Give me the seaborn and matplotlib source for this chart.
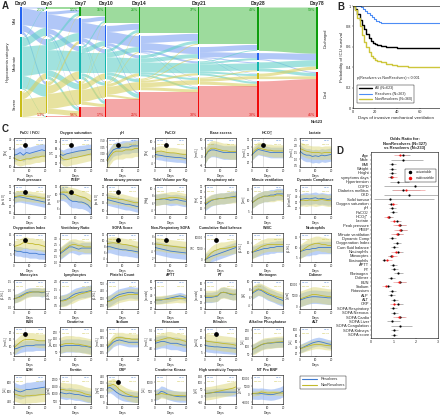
import numpy as np
import pandas as pd
import seaborn as sns
import matplotlib.pyplot as plt
from matplotlib.lines import Line2D

W, H = 440, 416

# ---------------- panel A: alluvial of hypoxaemia category ----------------
stage_labels = ['Day0', 'Day3', 'Day7', 'Day10', 'Day14', 'Day21', 'Day28', 'Day78']
stage_x = [0, 3, 7, 10, 14, 21, 28, 35]
states = ['Discharged', 'Mild', 'Moderate', 'Severe', 'Died']
# fraction of all patients moving [from state][to state] between stages
flow_0_3 = [[0, 0, 0, 0, 0],
            [0.01, 0.16, 0.06, 0.03, 0],
            [0.01, 0.08, 0.28, 0.12, 0.01],
            [0, 0.01, 0.06, 0.17, 0.003],
            [0, 0, 0, 0, 0]]
flow_3_7 = [[0.021, 0, 0, 0, 0],
            [0.03, 0.14, 0.05, 0.02, 0.01],
            [0.03, 0.08, 0.20, 0.06, 0.03],
            [0.01, 0.03, 0.08, 0.15, 0.05],
            [0, 0, 0, 0, 0.013]]
flow_7_10 = [[0.091, 0, 0, 0, 0],
             [0.04, 0.15, 0.04, 0.01, 0.01],
             [0.02, 0.05, 0.20, 0.03, 0.03],
             [0.01, 0.01, 0.06, 0.12, 0.03],
             [0, 0, 0, 0, 0.103]]
flow_10_14 = [[0.161, 0, 0, 0, 0],
              [0.06, 0.11, 0.03, 0.005, 0.015],
              [0.03, 0.05, 0.15, 0.03, 0.04],
              [0.01, 0.01, 0.03, 0.08, 0.02],
              [0, 0, 0, 0, 0.173]]
flow_14_21 = [[0.261, 0, 0, 0, 0],
              [0.07, 0.07, 0.02, 0.005, 0.005],
              [0.03, 0.04, 0.10, 0.02, 0.02],
              [0.01, 0.01, 0.02, 0.045, 0.03],
              [0, 0, 0, 0, 0.248]]
flow_21_28 = [[0.371, 0, 0, 0, 0],
              [0.05, 0.05, 0.01, 0.005, 0.005],
              [0.01, 0.02, 0.07, 0.02, 0.02],
              [0, 0, 0.01, 0.03, 0.03],
              [0, 0, 0, 0, 0.303]]
flow_28_78 = [[0.431, 0, 0, 0, 0],
              [0.06, 0, 0, 0, 0.01],
              [0.06, 0, 0, 0, 0.03],
              [0.03, 0, 0, 0, 0.025],
              [0, 0, 0, 0, 0.358]]
flows = [flow_0_3, flow_3_7, flow_7_10, flow_10_14, flow_14_21, flow_21_28, flow_28_78]
pct_discharged = ['', '2.1%', '9.5%', '16%', '26%', '37%', '43%', '59%']
pct_died = ['', '1.3%', '9.6%', '17%', '25%', '30%', '38%', '41%']

# ---------------- panel B: Kaplan-Meier ----------------
km_days = [0, 2, 4, 6, 8, 10, 12, 14, 16, 18, 20, 22, 25, 30, 35, 40, 50, 60, 78]
surv_all = [1, 0.97, 0.92, 0.86, 0.81, 0.77, 0.73, 0.69, 0.66, 0.64, 0.63, 0.62,
            0.61, 0.60, 0.595, 0.59, 0.588, 0.585, 0.585]
surv_nonres = [1, 0.96, 0.88, 0.80, 0.72, 0.65, 0.60, 0.55, 0.51, 0.49, 0.47, 0.46,
               0.45, 0.43, 0.42, 0.41, 0.405, 0.40, 0.40]
res_days = [0, 5, 7, 9, 11, 13, 15, 17, 19, 21, 23, 25, 78]
surv_res = [1, 1, 0.99, 0.97, 0.95, 0.93, 0.91, 0.89, 0.87, 0.855, 0.845, 0.835, 0.835]

# ---------------- panel C: trajectories ----------------
c_days = [0, 2, 4, 6, 8, 10, 12, 14, 16, 18, 20]
c_titles = ['PaO$_2$ / FiO$_2$', 'Oxygen saturation', 'pH', 'PaCO$_2$', 'Base excess', 'HCO$_3^-$', 'Lactate',
            'Peak pressure', 'PEEP', 'Mean airway pressure', 'Tidal Volume per Kg', 'Respiratory rate',
            'Minute ventilation', 'Dynamic Compliance',
            'Oxygenation Index', 'Ventilatory Ratio', 'SOFA Score', 'Non-Respiratory SOFA',
            'Cumulative fluid balance', 'WBC', 'Neutrophils',
            'Monocytes', 'Lymphocytes', 'Platelet Count', 'APTT', 'PT', 'Fibrinogen', 'D-dimer',
            'BUN', 'Creatinine', 'Sodium', 'Potassium', 'Bilirubin', 'Alkaline Phosphatase', 'ALT',
            'LDH', 'Ferritin', 'CRP', 'Creatinine Kinase', 'High sensitivity Troponin', 'NT Pro BNP']
c_units = ['[kPa]', '[%]', '', '[kPa]', '[mmol/L]', '[mmol/L]', '[mmol/L]',
           '[cmH$_2$O]', '[cmH$_2$O]', '[cmH$_2$O]', '[ml/kg]', '[/min]', '[L/min]', '[ml/cmH$_2$O]',
           '', '', '', '', '[ml]', '[x10$^9$/L]', '[x10$^9$/L]',
           '[x10$^9$/L]', '[x10$^9$/L]', '[x10$^9$/L]', '[seconds]', '[seconds]', '[g/L]', '[ng/mL]',
           '[mmol/L]', '[μmol/L]', '[mmol/L]', '[mmol/L]', '[μmol/L]', '[U/L]', '[U/L]',
           '[U/L]', '[ng/mL]', '[mg/L]', '[U/L]', '[ng/L]', '[pg/ml]']
c_ylims = [(10, 42), (91, 99), (7.3, 7.52), (3, 11), (-6, 11), (17, 36), (0.4, 2.6),
           (14, 36), (4.5, 12.5), (8, 26), (3, 11), (10, 36), (4, 17), (10, 60),
           (1, 16), (1, 3.5), (3, 12.5), (1, 9), (-1000, 12000), (5, 20), (3, 17),
           (-0.1, 1.6), (0.3, 2.1), (150, 550), (20, 62), (12, 16.5), (3, 10.5), (-1000, 12000),
           (3, 24), (20, 240), (133, 152), (3.6, 5.2), (3, 22), (40, 220), (10, 110),
           (350, 950), (300, 2300), (-20, 420), (-200, 1400), (-60, 160), (-6000, 12000)]
c_yticks = [[10, 20, 30, 40], [92, 94, 96, 98], [7.35, 7.4, 7.45, 7.5], [4, 6, 8, 10], [-5, 0, 5, 10],
            [20, 25, 30, 35], [0.5, 1, 1.5, 2, 2.5],
            [15, 20, 25, 30, 35], [6, 8, 10, 12], [10, 15, 20, 25], [4, 6, 8, 10], [15, 20, 25, 30, 35],
            [5, 10, 15], [20, 30, 40, 50],
            [5, 10, 15], [1, 1.5, 2, 2.5, 3], [4, 6, 8, 10, 12], [2, 4, 6, 8], [0, 5000, 10000],
            [10, 15], [5, 10, 15],
            [0, 0.5, 1, 1.5], [0.5, 1, 1.5, 2], [200, 300, 400, 500], [20, 30, 40, 50, 60],
            [12, 13, 14, 15, 16], [4, 6, 8, 10], [0, 5000, 10000],
            [5, 10, 15, 20], [50, 100, 150, 200], [135, 140, 145, 150], [4, 4.5, 5], [5, 10, 15, 20],
            [50, 100, 150, 200], [20, 40, 60, 80, 100],
            [400, 600, 800], [500, 1000, 1500, 2000], [0, 100, 200, 300, 400], [0, 500, 1000],
            [-50, 0, 50, 100, 150], [-5000, 0, 5000, 10000]]
res_mean = [
    [23, 24, 26, 23, 26, 25, 26, 27, 28, 29, 28],
    [94.5, 94.2, 94.6, 94.8, 95, 95.2, 95.4, 95.5, 95.6, 95.8, 95.8],
    [7.36, 7.40, 7.43, 7.44, 7.44, 7.45, 7.45, 7.45, 7.46, 7.46, 7.46],
    [6.5, 6.3, 6.2, 6.0, 5.9, 5.8, 5.7, 5.6, 5.6, 5.5, 5.3],
    [0, 3, 4, 4, 3.5, 3, 2.5, 2.5, 2.5, 2.5, 2.5],
    [25, 27, 28.5, 28, 27.5, 27, 26.5, 26.5, 26.5, 26.5, 26.5],
    [1.6, 1.4, 1.3, 1.3, 1.2, 1.25, 1.2, 1.3, 1.25, 1.3, 1.35],
    [26, 27, 27, 26.5, 26, 25.5, 25, 24.5, 24, 23.5, 23],
    [10, 10, 9.5, 8.5, 8, 8, 7.8, 7.8, 7.5, 7, 6],
    [17, 16.5, 16, 15.5, 15, 14.5, 14, 14, 13.5, 13, 12.5],
    [7, 7, 7.1, 7.2, 7, 6.8, 6.9, 7, 6.8, 6.6, 6.5],
    [18, 20, 22, 23, 23.5, 24, 24, 24.5, 25, 25.5, 26],
    [9, 10, 11, 11.5, 12, 12, 12.5, 12.5, 13, 13, 13],
    [35, 36, 37, 36, 37, 38, 36, 37, 36, 35, 36],
    [7, 6.5, 6.5, 6, 6, 5.5, 5.5, 5.5, 5, 5, 4.8],
    [1.7, 1.9, 2.1, 2.3, 2.3, 2.2, 2.1, 2.2, 2.2, 2.2, 2.2],
    [8, 8, 7.7, 7.4, 7.2, 7, 7, 6.8, 6.7, 6.5, 6.3],
    [5, 4.8, 4.6, 4.4, 4.2, 4, 3.9, 3.8, 3.7, 3.6, 3.5],
    [0, 800, 1500, 2000, 2500, 3000, 3500, 4000, 4500, 5000, 5500],
    [10, 10.5, 11, 11.5, 12, 12, 12.5, 12.5, 13, 13, 13],
    [8, 8.5, 9, 9, 9.5, 9.5, 10, 10, 10, 10, 10],
    [0.5, 0.55, 0.65, 0.75, 0.85, 0.9, 0.9, 0.9, 0.9, 0.85, 0.9],
    [0.8, 0.85, 0.9, 1.0, 1.15, 1.25, 1.3, 1.35, 1.35, 1.4, 1.45],
    [250, 270, 300, 330, 350, 360, 370, 380, 380, 370, 370],
    [33, 33, 33, 34, 35, 36, 37, 38, 39, 38, 36],
    [13.8, 13.8, 13.8, 13.9, 14, 14.5, 14.6, 14.5, 14.3, 14.2, 14.3],
    [7, 7.5, 8, 7.8, 7.3, 6.8, 6.5, 6.2, 5.8, 5.5, 5.2],
    [3000, 3500, 4000, 4300, 4500, 4500, 4400, 4300, 4200, 4000, 4000],
    [8, 8.5, 9.5, 10, 10.5, 10.5, 10.5, 11, 11, 11, 11],
    [90, 95, 100, 100, 100, 100, 100, 95, 95, 90, 85],
    [138, 140, 142, 143, 143.5, 143, 142.5, 142, 142, 142, 142],
    [4.3, 4.35, 4.4, 4.4, 4.35, 4.3, 4.3, 4.3, 4.25, 4.2, 4.2],
    [10, 9.5, 9.3, 9, 9, 8.8, 8.6, 8.5, 8.3, 8.2, 8],
    [80, 90, 100, 110, 115, 120, 120, 122, 124, 125, 125],
    [35, 40, 45, 50, 55, 58, 60, 58, 55, 52, 50],
    [650, 620, 600, 620, 650, 650, 660, 670, 680, 690, 700],
    [1100, 1050, 1000, 1050, 1000, 950, 950, 900, 850, 800, 800],
    [220, 230, 200, 160, 130, 110, 100, 95, 90, 85, 80],
    [300, 350, 500, 450, 350, 300, 250, 220, 200, 200, 200],
    [20, 22, 25, 28, 30, 30, 30, 30, 30, 30, 30],
    [500, 400, 300, 500, 200, 0, -200, 0, 500, 1000, 2000]]
nonres_mean = [
    [20, 18, 17, 18, 19, 19, 20, 21, 21, 22, 22],
    [94, 93.2, 93, 93.2, 93.5, 93.6, 93.8, 94, 94.2, 94.4, 94.6],
    [7.34, 7.38, 7.41, 7.42, 7.42, 7.42, 7.43, 7.43, 7.43, 7.44, 7.44],
    [7.0, 7.3, 7.4, 7.2, 7.0, 6.9, 6.9, 6.8, 6.6, 6.5, 6.5],
    [0.5, 3.5, 5, 5, 4.5, 4, 3.5, 3.5, 3, 3, 3],
    [25.5, 28, 29.5, 29, 28.5, 28, 28, 27.5, 27.5, 27.5, 27.5],
    [1.8, 1.7, 1.6, 1.55, 1.5, 1.5, 1.5, 1.45, 1.5, 1.5, 1.5],
    [27, 27.5, 28, 28, 27.5, 27.5, 27, 27, 26.5, 26, 26],
    [10.5, 10.5, 10.5, 10.2, 10, 9.8, 9.5, 9.2, 9, 8.5, 8],
    [18, 18, 17.5, 17.5, 17, 17, 16.5, 16, 15.5, 15, 15],
    [6.9, 7, 7.2, 7.3, 7.4, 7.6, 7.6, 7.5, 7.4, 7.2, 7.0],
    [19, 21, 22.5, 23, 23.5, 24, 24, 24.5, 24.5, 25, 25],
    [9, 10, 11, 11.5, 12, 12, 12, 12, 12.5, 12.5, 12],
    [33, 34, 33, 34, 34, 33, 34, 35, 34, 33, 33],
    [9, 9.5, 10, 11, 11, 10.5, 10.5, 10, 10, 9.5, 9],
    [1.8, 2.0, 2.2, 2.4, 2.5, 2.5, 2.4, 2.4, 2.3, 2.3, 2.3],
    [9, 9.2, 9.3, 9.2, 9, 8.8, 8.7, 8.5, 8.3, 8, 7.8],
    [6, 5.9, 5.8, 5.6, 5.5, 5.4, 5.3, 5.2, 5.1, 5, 4.9],
    [0, 1500, 3000, 4000, 4500, 5000, 5000, 5200, 5500, 5800, 6000],
    [10, 11, 12, 13, 13.5, 14, 14, 14, 14, 14, 14],
    [8, 9, 10, 11, 11.5, 12, 12, 11.5, 11.5, 11, 11],
    [0.5, 0.55, 0.6, 0.7, 0.8, 0.85, 0.9, 0.9, 0.9, 0.9, 0.9],
    [0.8, 0.8, 0.85, 0.95, 1.0, 1.1, 1.2, 1.25, 1.3, 1.35, 1.4],
    [250, 260, 280, 300, 320, 330, 340, 350, 350, 350, 350],
    [33, 33, 33.5, 34, 34, 34.5, 35, 35.5, 35, 35, 35],
    [14, 14, 14, 14, 14.1, 14.5, 14.6, 14.5, 14.4, 14.3, 14.3],
    [7.2, 7.8, 8.2, 8, 7.6, 7.2, 6.8, 6.5, 6.2, 6, 5.8],
    [3500, 4000, 4500, 5000, 5500, 5500, 5300, 5000, 4800, 4600, 4500],
    [9, 11, 13, 14.5, 15, 15, 15, 14.5, 14, 14, 14],
    [100, 110, 115, 115, 115, 110, 110, 105, 100, 95, 90],
    [139, 141, 143.5, 145, 145, 145, 144.5, 144.5, 144, 144, 144],
    [4.4, 4.45, 4.5, 4.55, 4.6, 4.6, 4.55, 4.5, 4.5, 4.45, 4.4],
    [13, 12.5, 12.3, 12, 11.8, 11.5, 11.2, 11, 10.8, 10.5, 10],
    [80, 88, 100, 110, 118, 120, 122, 125, 127, 128, 130],
    [35, 38, 42, 45, 48, 50, 50, 49, 47, 46, 45],
    [560, 540, 520, 510, 520, 520, 530, 530, 540, 545, 550],
    [1300, 1300, 1250, 1250, 1200, 1200, 1150, 1100, 1000, 950, 900],
    [250, 260, 280, 250, 200, 170, 140, 120, 105, 95, 90],
    [300, 320, 380, 350, 320, 300, 280, 270, 260, 255, 250],
    [20, 22, 25, 30, 35, 40, 45, 50, 55, 60, 70],
    [500, 600, 800, 1500, 1200, 800, 900, 1000, 900, 800, 800]]
res_sd = [7, 1.5, 0.05, 1.3, 4, 3.5, 0.5, 4, 1.8, 3.5, 1.5, 5, 2.5, 10, 2.5, 0.5, 2, 1.8, 2500, 3, 3,
          0.25, 0.35, 80, 5, 0.8, 1.5, 3000, 4, 50, 3, 0.35, 4, 30, 15, 150, 400, 80, 300, 30, 3500]
nonres_sd = [6, 1.8, 0.06, 1.5, 4.5, 4, 0.5, 4, 1.8, 3.5, 1.6, 5, 2.5, 10, 3, 0.5, 2, 1.8, 3000, 3.5, 3.5,
             0.25, 0.35, 80, 6, 0.9, 1.6, 3500, 5, 60, 3.5, 0.35, 5, 35, 15, 150, 500, 90, 250, 50, 1500]
c_star = [0, 1, 2, 3, 5, 7, 8, 9, 14, 16, 17, 18, 28, 32, 37]

# ---------------- panel D: odds ratios ----------------
or_names = ['Age', 'Male', 'BMI', 'Weight', 'Height', 'symptoms days', 'Hypertension', 'COPD',
            'Diabetes mellitus', 'CKD', 'Solid tumour', 'Oxygen saturation', 'pH', 'PaCO$_2$', 'HCO$_3^-$',
            'Lactate', 'Peak pressure', 'PEEP', 'Minute ventilation', 'Dynamic Comp', 'Oxygenation Index',
            'Cum fluid balance', 'Neutrophils', 'Monocytes', 'Eosinophils', 'APTT', 'PT', 'Fibrinogen',
            'D-dimer', 'BUN', 'Sodium', 'Potassium', 'ALP', 'ALT', 'CRP', 'SOFA Respiratory',
            'SOFA Nervous', 'SOFA Cardio', 'SOFA Liver', 'SOFA Coagulation', 'SOFA Kidneys', 'SOFA score']
or_uni = [1.45, 1.45, 0.95, 0.95, 0.95, 0.9, 1.2, 1.95, 1.45, 1.7, 0.85, 0.9, 0.95, 1.0, 0.82, 1.15, 1.3,
          1.35, 1.2, 0.95, 1.15, 1.05, 1.2, 0.9, 0.6, 1.0, 1.05, 1.2, 0.9, 1.3, 0.75, 0.95, 0.9, 1.05,
          1.2, 1.0, 1.05, 1.3, 0.95, 1.3, 1.05, 1.02]
or_uni_lo = [1.2, 0.9, 0.8, 0.8, 0.82, 0.75, 0.85, 0.6, 0.95, 0.6, 0.15, 0.75, 0.8, 0.85, 0.68, 0.97,
             1.08, 1.12, 1.0, 0.8, 0.97, 0.9, 1.02, 0.76, 0.48, 0.85, 0.9, 1.02, 0.76, 1.1, 0.62, 0.8,
             0.76, 0.9, 1.02, 0.85, 0.9, 1.1, 0.7, 0.9, 0.9, 0.9]
or_uni_hi = [1.75, 2.35, 1.1, 1.12, 1.1, 1.05, 1.7, 4.0, 2.2, 4.5, 2.8, 1.05, 1.1, 1.17, 0.97, 1.35,
             1.55, 1.6, 1.42, 1.12, 1.35, 1.22, 1.42, 1.06, 0.76, 1.18, 1.22, 1.42, 1.06, 1.55, 0.9,
             1.12, 1.06, 1.22, 1.42, 1.18, 1.22, 1.52, 1.3, 1.85, 1.22, 1.15]
multi_names = ['Age', 'symptoms days', 'Diabetes mellitus', 'Oxygen saturation', 'HCO$_3^-$', 'Lactate',
               'Peak pressure', 'PEEP', 'Minute ventilation', 'Neutrophils', 'Monocytes', 'Eosinophils',
               'BUN', 'Sodium', 'CRP', 'SOFA Cardio']
or_multi = [1.3, 0.95, 1.55, 0.98, 0.75, 1.05, 1.25, 1.3, 1.15, 1.1, 0.95, 0.7, 1.25, 0.65, 1.05, 1.25]
or_multi_lo = [1.05, 0.78, 1.0, 0.8, 0.6, 0.85, 1.0, 1.05, 0.9, 0.9, 0.78, 0.52, 1.0, 0.5, 0.85, 1.0]
or_multi_hi = [1.6, 1.15, 2.4, 1.18, 0.92, 1.3, 1.55, 1.6, 1.45, 1.35, 1.15, 0.92, 1.55, 0.82, 1.3, 1.55]


def box(x0, y0, x1, y1):
    return [x0 / W, 1 - y1 / H, (x1 - x0) / W, (y1 - y0) / H]


sns.set_theme(style='white')
plt.rcParams['font.family'] = ['Liberation Sans', 'DejaVu Sans']
plt.rcParams.update({
    'axes.linewidth': 0.4, 'axes.edgecolor': 'black',
    'xtick.major.size': 1, 'ytick.major.size': 1,
    'xtick.major.width': 0.3, 'ytick.major.width': 0.3,
    'xtick.major.pad': 0.6, 'ytick.major.pad': 0.5,
    'xtick.labelsize': 2.1, 'ytick.labelsize': 2.0,
    'xtick.bottom': True, 'ytick.left': True,
})

fig = plt.figure(figsize=(W / 100, H / 100), dpi=100)

# ---------------- A ----------------
node_cols = ['#0d9e0d', '#2463f0', '#14b6b0', '#c9bd18', '#f00a0a']
flow_cols = ['#5cc45c', '#7ea2f2', '#62d0c8', '#d8d060', '#ee6c6c']

axa = fig.add_axes(box(18.5, 7, 319.5, 118))
axa.set_xlim(-0.3, 35.3)
axa.set_ylim(-0.01, 1.0)
axa.axis('off')


def layout(sizes, gap=0.02):
    n = sum(1 for s in sizes if s > 0)
    scale = (1 - gap * (n - 1)) / sum(sizes)
    tops, bots, y = [], [], 1.0
    for s in sizes:
        tops.append(y)
        bots.append(y - s * scale)
        if s > 0:
            y -= s * scale + gap
    return tops, bots, scale


stage_sizes = [np.array(flows[0]).sum(axis=1)] + [np.array(f).sum(axis=0) for f in flows]
bw = 0.2
for k, fl in enumerate(flows):
    s_tops, _, s_sc = layout(stage_sizes[k])
    t_tops, _, t_sc = layout(stage_sizes[k + 1])
    sc, tc = list(s_tops), list(t_tops)
    x0, x1 = stage_x[k] + bw / 2, stage_x[k + 1] - bw / 2
    xs = np.linspace(x0, x1, 50)
    sm = (1 - np.cos(np.pi * (xs - x0) / (x1 - x0))) / 2
    for i in range(5):
        for j in range(5):
            f = fl[i][j]
            if f <= 0:
                continue
            y0t, y0b = sc[i], sc[i] - f * s_sc
            y1t, y1b = tc[j], tc[j] - f * t_sc
            sc[i], tc[j] = y0b, y1b
            axa.fill_between(xs, y0b + (y1b - y0b) * sm, y0t + (y1t - y0t) * sm,
                             color=flow_cols[i], alpha=0.6, lw=0)

for k, sizes in enumerate(stage_sizes):
    tops, bots, _ = layout(sizes)
    for i in range(5):
        if sizes[i] > 0:
            axa.bar(stage_x[k], tops[i] - bots[i], bottom=bots[i], width=bw,
                    color=node_cols[i], lw=0, zorder=3)
    axa.text(stage_x[k], 1.005, stage_labels[k], ha='center', va='bottom',
             fontsize=3.6, fontweight='bold')
    if pct_discharged[k]:
        axa.text(stage_x[k] - 0.2, 0.99, pct_discharged[k], ha='right', va='top',
                 fontsize=2.6, color='#139a13')
        axa.text(stage_x[k] - 0.2, 0.0, pct_died[k], ha='right', va='bottom',
                 fontsize=2.6, color='#e01010')
    if k == 0:
        for i, name in [(1, 'Mild'), (2, 'Moderate'), (3, 'Severe')]:
            axa.text(-0.75, (tops[i] + bots[i]) / 2, name, rotation=90, ha='center',
                     va='center', fontsize=2.8)
    if k == len(stage_sizes) - 1:
        for i, name in [(0, 'Discharged'), (4, 'Died')]:
            axa.text(36.0, (tops[i] + bots[i]) / 2, name, rotation=90, ha='center',
                     va='center', fontsize=2.8)
axa.text(-1.55, 0.5, 'Hypoxaemia category', rotation=90, ha='center', va='center', fontsize=3.0)
axa.text(35, -0.025, 'N=623', ha='center', va='top', fontsize=3.0, fontweight='bold')

# ---------------- B ----------------
axb = fig.add_axes(box(353, 6, 439.5, 108))
sns.lineplot(x=km_days, y=surv_all, ax=axb, color='black', lw=1.0, drawstyle='steps-post')
sns.lineplot(x=res_days, y=surv_res, ax=axb, color='#4d8df5', lw=0.8, drawstyle='steps-post')
sns.lineplot(x=km_days, y=surv_nonres, ax=axb, color='#cdc63a', lw=1.0, drawstyle='steps-post')
axb.set_xlim(0, 78)
axb.set_ylim(0, 1)
axb.set_xticks([0, 20, 40, 60])
axb.set_yticks([0, 0.2, 0.4, 0.6, 0.8, 1])
axb.set_yticklabels(['0', '0.2', '0.4', '0.6', '0.8', '1'])
axb.tick_params(labelsize=2.8)
axb.set_xlabel('Days of invasive mechanical ventilation', fontsize=3.2, labelpad=1.5)
axb.set_ylabel('Probability of ICU survival', fontsize=3.2, labelpad=1)
axb.text(4, 0.28, 'p(Resolvers vs NonResolvers) < 0.001', fontsize=2.6)
axb.legend(handles=[Line2D([], [], color='black', lw=1.0),
                    Line2D([], [], color='#4d8df5', lw=0.8),
                    Line2D([], [], color='#cdc63a', lw=1.0)],
           labels=['All (N=623)', 'Resolvers (N=263)', 'NonResolvers (N=360)'],
           loc='lower left', bbox_to_anchor=(0.03, 0.03), fontsize=2.6, frameon=True,
           fancybox=False, edgecolor='black', framealpha=1, handlelength=3.5,
           borderpad=0.5, labelspacing=0.4).get_frame().set_linewidth(0.3)

# ---------------- C ----------------
c_col_left = [14, 60, 107, 155, 205, 252, 300]
c_row_top = [138, 185, 233, 280, 327, 375]
blue_line, blue_fill = '#3f7ad0', '#8fb2f2'
yel_line, yel_fill = '#c2b92a', '#dcd777'
for k in range(len(c_titles)):
    r, c = divmod(k, 7)
    x0, y0 = c_col_left[c], c_row_top[r]
    ax = fig.add_axes(box(x0, y0, x0 + 31, y0 + 29))
    rm, nm = np.array(res_mean[k]), np.array(nonres_mean[k])
    ax.axvline(7, color='#cccccc', lw=0.4, zorder=0)
    ax.fill_between(c_days, rm - res_sd[k], rm + res_sd[k], color=blue_fill, alpha=0.6, lw=0)
    ax.fill_between(c_days, nm - nonres_sd[k], nm + nonres_sd[k], color=yel_fill, alpha=0.5, lw=0)
    sns.lineplot(x=c_days, y=rm, ax=ax, color=blue_line, lw=0.6)
    sns.lineplot(x=c_days, y=nm, ax=ax, color=yel_line, lw=0.6)
    lo, hi = c_ylims[k]
    ax.set_xlim(0, 20)
    ax.set_xticks([0, 10, 20])
    ax.set_ylim(lo, hi)
    ax.set_yticks(c_yticks[k])
    ax.set_title(c_titles[k], fontsize=2.6, fontweight='bold', pad=2.6)
    ax.set_xlabel('Days', fontsize=2.4, labelpad=0.6)
    ax.set_ylabel(c_units[k], fontsize=1.8, labelpad=0.3)
    if k in c_star:
        ax.plot(7, lo + 0.76 * (hi - lo), 'o', color='black', ms=2.4, zorder=5)
    # group sizes at day 0 (left) and day 20 (right)
    for xa, ha, n_r, n_nr in [(0.02, 'left', '263', '360'), (0.98, 'right', '97', '175')]:
        ax.text(xa, 0.975, 'N$_R$=' + n_r, color=blue_line, fontsize=1.3,
                transform=ax.transAxes, va='top', ha=ha)
        ax.text(xa, 0.84, 'N$_{NR}$=' + n_nr, color=yel_line, fontsize=1.3,
                transform=ax.transAxes, va='top', ha=ha)

fig.legend(handles=[Line2D([], [], color=blue_line, lw=0.8), Line2D([], [], color=yel_line, lw=0.8)],
           labels=['Resolvers', 'NonResolvers'], loc='upper left',
           bbox_to_anchor=(298 / W, 1 - 374 / H), fontsize=2.8, frameon=True, fancybox=False,
           edgecolor='black', framealpha=1, handlelength=4, borderpad=0.4).get_frame().set_linewidth(0.3)

# ---------------- D ----------------
axd = fig.add_axes(box(371, 152, 438, 338))
rows = list(range(len(or_names)))
multi_rows = [or_names.index(n) for n in multi_names]
axd.hlines(rows, or_uni_lo, or_uni_hi, color='#9a9a9a', lw=0.5)
axd.hlines(multi_rows, or_multi_lo, or_multi_hi, color='#f2a0a0', lw=0.5)
sns.scatterplot(x=or_uni, y=rows, ax=axd, color='black', s=2.5, linewidth=0, zorder=4)
sns.scatterplot(x=or_multi, y=multi_rows, ax=axd, color='#f01010', s=2.5, linewidth=0, zorder=5)
axd.set_xlim(0, 3)
axd.set_ylim(41.8, -0.8)
axd.set_xticks([0, 1, 2, 3])
axd.set_yticks(rows)
axd.set_yticklabels(or_names)
axd.tick_params(axis='y', labelsize=2.9, length=1)
axd.tick_params(axis='x', labelsize=2.6)
axd.set_title('Odds Ratio for:\nNonResolvers (N=327)\nvs Resolvers (N=233)', fontsize=3.0,
              fontweight='bold', pad=2)
axd.legend(handles=[Line2D([], [], color='black', marker='o', ms=1.5, lw=0),
                    Line2D([], [], color='#f01010', marker='o', ms=1.5, lw=0)],
           labels=['univariable', 'multivariable'], loc='upper right', bbox_to_anchor=(1.0, 0.92),
           fontsize=2.4, frameon=True, fancybox=False, edgecolor='black', framealpha=1,
           borderpad=0.5).get_frame().set_linewidth(0.3)

# panel letters
for letter, px, py in [('A', 2, 1), ('B', 337, 2), ('C', 2, 124), ('D', 336, 146)]:
    fig.text(px / W, 1 - py / H, letter, fontsize=7, fontweight='bold', va='top', ha='left')

fig.savefig('out.png', dpi=100)
